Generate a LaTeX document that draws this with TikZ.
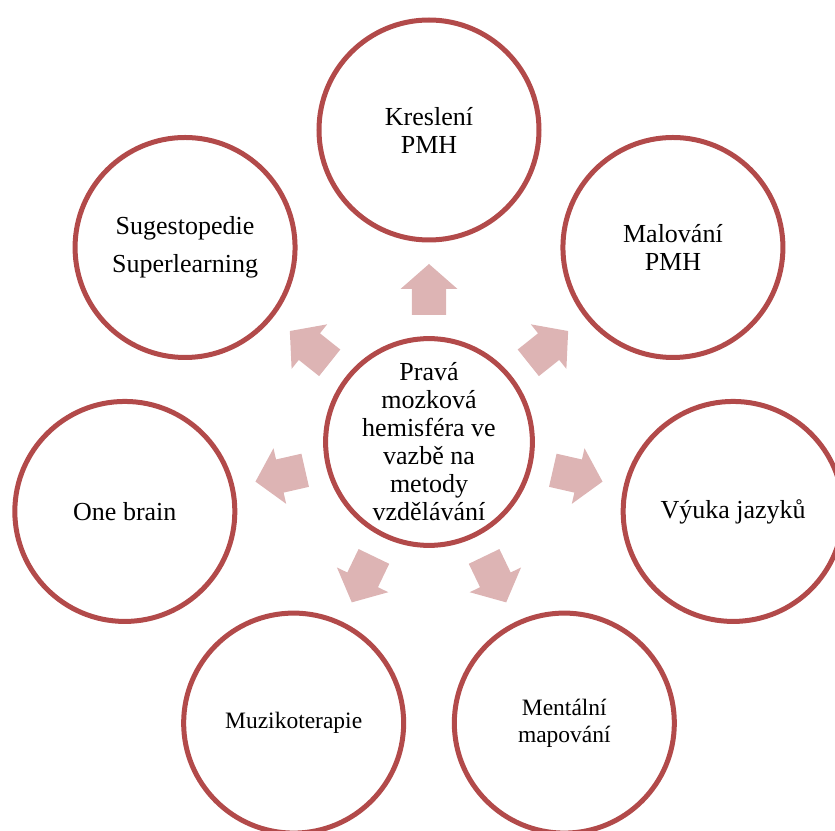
\documentclass[tikz,border=0pt]{standalone}
\usepackage{fontspec}
\setmainfont{Liberation Serif}
\usepackage{tikz}
\usetikzlibrary{calc}
\definecolor{RingC}{HTML}{B24A4A}
\definecolor{ArrC}{HTML}{DDB4B4}
\newcommand{\bigtxt}{\fontsize{26}{28}\selectfont}
\newcommand{\smalltxt}{\fontsize{23.5}{26.5}\selectfont}

\begin{document}
\begin{tikzpicture}[x=1pt,y=1pt,
  ring/.style={circle,draw=RingC,line width=5pt,fill=white,inner sep=0pt,
    minimum size=220pt,align=center,font=\bigtxt},
  hubring/.style={ring,minimum size=205pt},
  blockarr/.style={fill=ArrC,draw=none}]

\useasboundingbox (-429,-388) rectangle (406,442);
\clip (-429,-388) rectangle (406,442);

% ================= hub =================
\node[hubring] (hub) at (0,0)
  {Pravá\\mozková\\hemisféra ve\\vazbě na\\metody\\vzdělávání};

% ================= spokes, clockwise from the top =================
\def\rr{312}   % hub centre to spoke centre
\node[ring] (kresleni) at (90:\rr) {Kreslení\\PMH};
\node[ring] (malovani) at (38.57:\rr) {Malování\\PMH};
\node[ring] (jazyky) at (-12.86:\rr) {Výuka jazyků};
\node[ring,font=\smalltxt] (mapovani) at (-64.29:\rr) {Mentální\\mapování};
\node[ring,font=\smalltxt] (muziko) at (-115.71:\rr) {Muzikoterapie};
\node[ring] (onebrain) at (-167.14:\rr) {One brain};
\node[ring,font=\fontsize{26}{38}\selectfont] (sugesto) at (141.43:\rr)
  {Sugestopedie\\Superlearning};

% ================= block arrows from the hub outwards =================
\foreach \a in {90,38.57,-12.86,-64.29,-115.71,-167.14,141.43}{
  \begin{scope}[shift={(hub.center)},rotate=\a]
    \fill[blockarr] (127,-17) -- (153,-17) -- (153,-28.5) -- (178,0)
      -- (153,28.5) -- (153,17) -- (127,17) -- cycle;
  \end{scope}}
\end{tikzpicture}
\end{document}
